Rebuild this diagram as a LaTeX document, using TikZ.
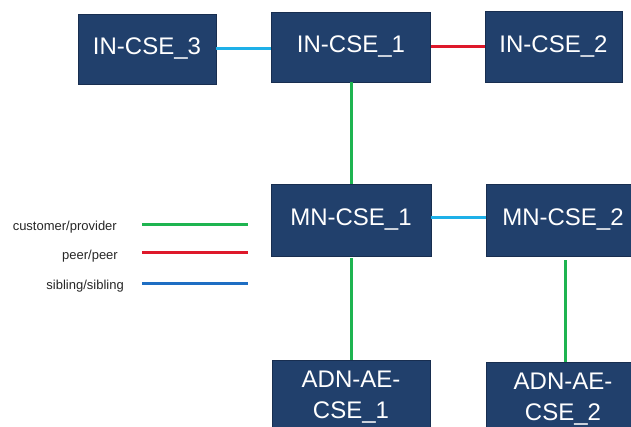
\documentclass[tikz,border=0pt]{standalone}
\usepackage{fontspec}
\setmainfont{Liberation Sans}
\definecolor{boxfill}{RGB}{33,64,108}
\definecolor{boxline}{RGB}{24,46,80}
\definecolor{cpgreen}{RGB}{30,180,80}
\definecolor{ppred}{RGB}{222,24,42}
\definecolor{sibcyan}{RGB}{30,176,232}
\definecolor{sibblue}{RGB}{30,110,195}
\tikzset{
  cse/.style={draw=boxline, line width=0.8pt, fill=boxfill, text=white, inner sep=0pt,
    font=\fontsize{24}{31}\selectfont, align=center},
  boxlabel/.style={text=white, inner sep=0pt, font=\fontsize{24}{31}\selectfont, align=center},
  legtext/.style={text=black!85, inner sep=0pt, font=\fontsize{13}{15}\selectfont, anchor=base east},
  cp/.style={draw=cpgreen, line width=3pt},
  pp/.style={draw=ppred, line width=3pt},
  sibc/.style={draw=sibcyan, line width=3pt},
  sibb/.style={draw=sibblue, line width=3pt},
}
\begin{document}
\begin{tikzpicture}[x=1pt,y=1pt]
\useasboundingbox (0,0) rectangle (631,427);
\clip (0,0) rectangle (631,427);
% boxes (y = 427 - pixel y)
\node[cse, minimum width=138, minimum height=70] (in3) at (147,378) {IN-CSE\_3};
\node[cse, minimum width=159, minimum height=70] (in1) at (351,380) {IN-CSE\_1};
\node[cse, minimum width=137, minimum height=71] (in2) at (553.5,380.5) {IN-CSE\_2};
\node[cse, minimum width=160, minimum height=72] (mn1) at (351,207) {MN-CSE\_1};
\node[cse, minimum width=154, minimum height=72] (mn2) at (563,207) {MN-CSE\_2};
\node[cse, minimum width=158, minimum height=80] (adn1) at (351,27) {};
\node[boxlabel] (adn1t) at (351,30) {ADN-AE-\\CSE\_1};
\node[cse, minimum width=154, minimum height=80] (adn2) at (563,25) {};
\node[boxlabel] (adn2t) at (563,28) {ADN-AE-\\CSE\_2};
% connectors
\draw[sibc] (in3.east |- 0,378) -- (in1.west |- 0,378);
\draw[pp] (in1.east) -- (in2.west |- in1.east);
\draw[cp] (in1.south) -- (mn1.north);
\draw[sibc] (mn1.east |- 0,209) -- (mn2.west |- 0,209);
\draw[cp] ([yshift=-2pt]mn1.south) -- (adn1.north);
\draw[cp] ([shift={(2pt,-4pt)}]mn2.south) -- ([xshift=2pt]adn2.north);
% legend
\node[legtext] (l1) at (117,196) {customer/provider};
\node[legtext] (l2) at (118,167) {peer/peer};
\node[legtext] (l3) at (124,137) {sibling/sibling};
\coordinate (a1) at (142,202); \coordinate (b1) at (248,202);
\coordinate (a2) at (142,174); \coordinate (b2) at (248,174);
\coordinate (a3) at (142,143); \coordinate (b3) at (248,143);
\draw[cp] (a1) -- (b1);
\draw[pp] (a2) -- (b2);
\draw[sibb] (a3) -- (b3);
\end{tikzpicture}
\end{document}
